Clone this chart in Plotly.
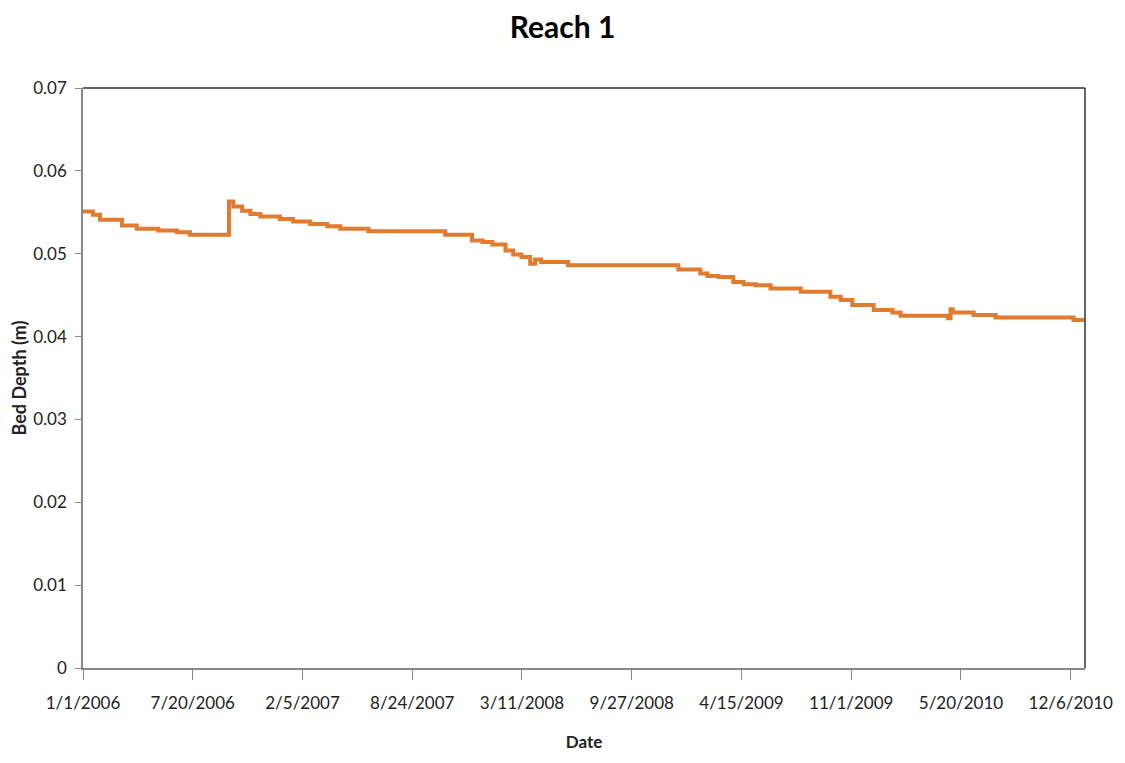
import plotly.graph_objects as go

dates = [
    "2006-01-01", "2006-01-19", "2006-02-01", "2006-03-13", "2006-04-09", "2006-05-18",
    "2006-06-21", "2006-07-15", "2006-09-24", "2006-10-02", "2006-10-18", "2006-11-02",
    "2006-11-20", "2006-12-26", "2007-01-19", "2007-02-19", "2007-03-22", "2007-04-15",
    "2007-06-05", "2007-10-23", "2007-12-11", "2007-12-30", "2008-01-17", "2008-02-10",
    "2008-02-24", "2008-03-10", "2008-03-26", "2008-04-04", "2008-04-15", "2008-06-03",
    "2008-12-21", "2009-01-30", "2009-02-12", "2009-03-04", "2009-03-31", "2009-04-19",
    "2009-05-11", "2009-06-07", "2009-08-01", "2009-09-24", "2009-10-13", "2009-11-03",
    "2009-12-12", "2010-01-15", "2010-01-30", "2010-04-26", "2010-05-01", "2010-05-05",
    "2010-06-12", "2010-07-22", "2010-12-11", "2010-12-31",
]
bed_depth = [
    0.0551, 0.0547, 0.0541, 0.0534, 0.0530, 0.0528,
    0.0526, 0.0523, 0.0563, 0.0557, 0.0552, 0.0548,
    0.0545, 0.0542, 0.0539, 0.0536, 0.0533, 0.0530,
    0.0527, 0.0523, 0.0516, 0.0514, 0.0511, 0.0504,
    0.0499, 0.0496, 0.0488, 0.0493, 0.0490, 0.0486,
    0.0481, 0.0476, 0.0473, 0.0472, 0.0466, 0.0463,
    0.0462, 0.0458, 0.0454, 0.0448, 0.0444, 0.0438,
    0.0432, 0.0429, 0.0425, 0.0422, 0.0433, 0.0429,
    0.0426, 0.0423, 0.0420, 0.0420,
]

tick_dates = ["2006-01-01", "2006-07-20", "2007-02-05", "2007-08-24", "2008-03-11",
              "2008-09-27", "2009-04-15", "2009-11-01", "2010-05-20", "2010-12-06"]
tick_labels = ["1/1/2006", "7/20/2006", "2/5/2007", "8/24/2007", "3/11/2008",
               "9/27/2008", "4/15/2009", "11/1/2009", "5/20/2010", "12/6/2010"]
y_ticks = [0, 0.01, 0.02, 0.03, 0.04, 0.05, 0.06, 0.07]
y_labels = ["0", "0.01", "0.02", "0.03", "0.04", "0.05", "0.06", "0.07"]

FONT = "Lato"

fig = go.Figure()
fig.add_trace(go.Scatter(
    x=dates, y=bed_depth, mode="lines", line_shape="hv",
    line=dict(color="#E07B30", width=4), showlegend=False,
))

fig.update_layout(
    width=1125, height=763,
    margin=dict(l=75, r=48, t=80, b=103, autoexpand=False),
    paper_bgcolor="white", plot_bgcolor="white",
    title=dict(text="<b>Reach 1</b>", x=0.493, xanchor="center", y=0.974, yanchor="middle",
               font=dict(family=FONT, size=30, color="black")),
    font=dict(family=FONT, color="#222"),
    xaxis=dict(
        type="date", range=["2006-01-01", "2011-01-01"],
        tickvals=tick_dates, ticktext=tick_labels,
        ticks="outside", ticklen=10, tickcolor="#888", tickwidth=1,
        ticklabelstandoff=9,
        showline=True, linecolor="#888", linewidth=1.5,
        showgrid=False, zeroline=False,
        tickfont=dict(family=FONT, size=17, color="#222"),
        title=dict(text="<b>Date</b>", font=dict(family=FONT, size=17, color="#222"), standoff=24),
    ),
    yaxis=dict(
        range=[0, 0.07], tickvals=y_ticks, ticktext=y_labels,
        ticks="outside", ticklen=6, tickcolor="#888", tickwidth=1,
        ticklabelstandoff=5,
        showline=True, linecolor="#888", linewidth=1.5,
        showgrid=False, zeroline=False,
        tickfont=dict(family=FONT, size=17, color="#222"),
        title=dict(text="<b>Bed Depth (m)</b>", font=dict(family=FONT, size=18, color="#222"), standoff=8),
    ),
    shapes=[
        dict(type="line", xref="paper", yref="paper", x0=0, x1=1, y0=1, y1=1,
             line=dict(color="#333", width=1.5)),
        dict(type="line", xref="paper", yref="paper", x0=1, x1=1, y0=0, y1=1,
             line=dict(color="#333", width=1.5)),
    ],
)

fig.write_html("out.html")
